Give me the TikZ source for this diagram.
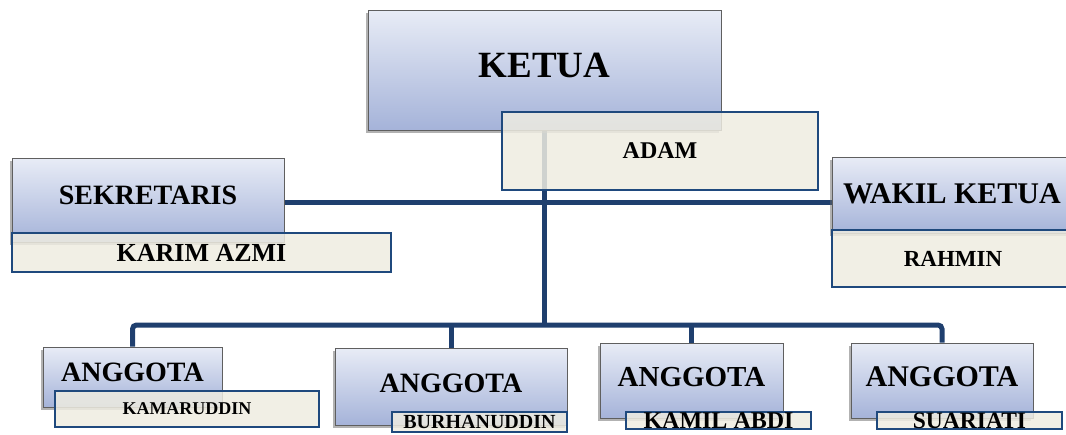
\documentclass[tikz,border=0pt]{standalone}
\usepackage{fontspec}
\setmainfont{Liberation Serif}
\usetikzlibrary{shadows,backgrounds}
\definecolor{lineblue}{RGB}{31,63,110}
\definecolor{boxtop}{RGB}{232,236,246}
\definecolor{boxbot}{RGB}{165,179,217}
\definecolor{beige}{RGB}{238,236,225}
\definecolor{beigeline}{RGB}{31,73,125}
\definecolor{boxline}{RGB}{95,95,95}
\begin{document}
\begin{tikzpicture}[x=1pt,y=-1pt,
 fs/.style={font=\fontsize{#1}{#1}\selectfont\bfseries, text height=#1*0.66pt},
 rolebox/.style={draw=boxline, line width=1pt, top color=boxtop, bottom color=boxbot,
   inner sep=0pt, text depth=10pt,
   drop shadow={shadow xshift=-2.5pt, shadow yshift=-2.5pt, opacity=0.5, fill=black!60}},
 namebox/.style={draw=beigeline, line width=2.5pt, fill=beige, fill opacity=0.85,
   text opacity=1, inner sep=0pt, text depth=0pt},
 conn/.style={draw=lineblue, line width=5pt}
]
\useasboundingbox (0,0) rectangle (1066,434);
\clip (0,0) rectangle (1066,434);

% role boxes
\node[rolebox, fs=37, minimum width=353, minimum height=120] (ketua) at (544.5,70) {KETUA};
\node[rolebox, fs=28, minimum width=272, minimum height=84] (sek) at (148,200) {SEKRETARIS};
\node[rolebox, fs=30, text depth=2pt, minimum width=240, minimum height=76] (wakil) at (952,195) {WAKIL KETUA};
\node[rolebox, fs=28, minimum width=179, minimum height=60] (a1) at (132.5,377) {ANGGOTA};
\node[rolebox, fs=28, text depth=7pt, minimum width=232, minimum height=77] (a2) at (451,386.5) {ANGGOTA};
\node[rolebox, fs=29, text depth=7pt, minimum width=183, minimum height=75] (a3) at (691.5,380.5) {ANGGOTA};
\node[rolebox, fs=30, text depth=7pt, minimum width=182, minimum height=75] (a4) at (942,380.5) {ANGGOTA};

% name boxes
\node[namebox, fs=24, minimum width=316, minimum height=78] (adam) at (660,151) {ADAM};
\node[namebox, fs=26, minimum width=379, minimum height=39] (karim) at (201.5,252.5) {KARIM AZMI};
\node[namebox, fs=23, minimum width=242, minimum height=57] (rahmin) at (953,258.5) {RAHMIN};
\node[namebox, fs=18, minimum width=264, minimum height=36] (kamar) at (187,409) {KAMARUDDIN};
\node[namebox, fs=20, minimum width=175, minimum height=20] (burhan) at (479.5,422) {BURHANUDDIN};
\node[namebox, fs=24, minimum width=185, minimum height=17] (kamil) at (718.5,420.5) {KAMIL ABDI};
\node[namebox, fs=23.5, minimum width=185, minimum height=17] (suar) at (969.5,420.5) {SUARIATI};

% connectors
\coordinate (bar) at (0,202);
\coordinate (hub) at (545,325);
\begin{scope}[on background layer]
\draw[conn] (sek.east |- bar) -- (wakil.west |- bar);
\draw[conn] (ketua.south) -- (ketua.south |- hub);
\draw[conn, rounded corners=4pt] (a1.north) -- (a1.north |- hub) -- (a4.north |- hub) -- (a4.north);
\draw[conn] (a2.north) -- (a2.north |- hub);
\draw[conn] (a3.north) -- (a3.north |- hub);
\end{scope}
\end{tikzpicture}
\end{document}
